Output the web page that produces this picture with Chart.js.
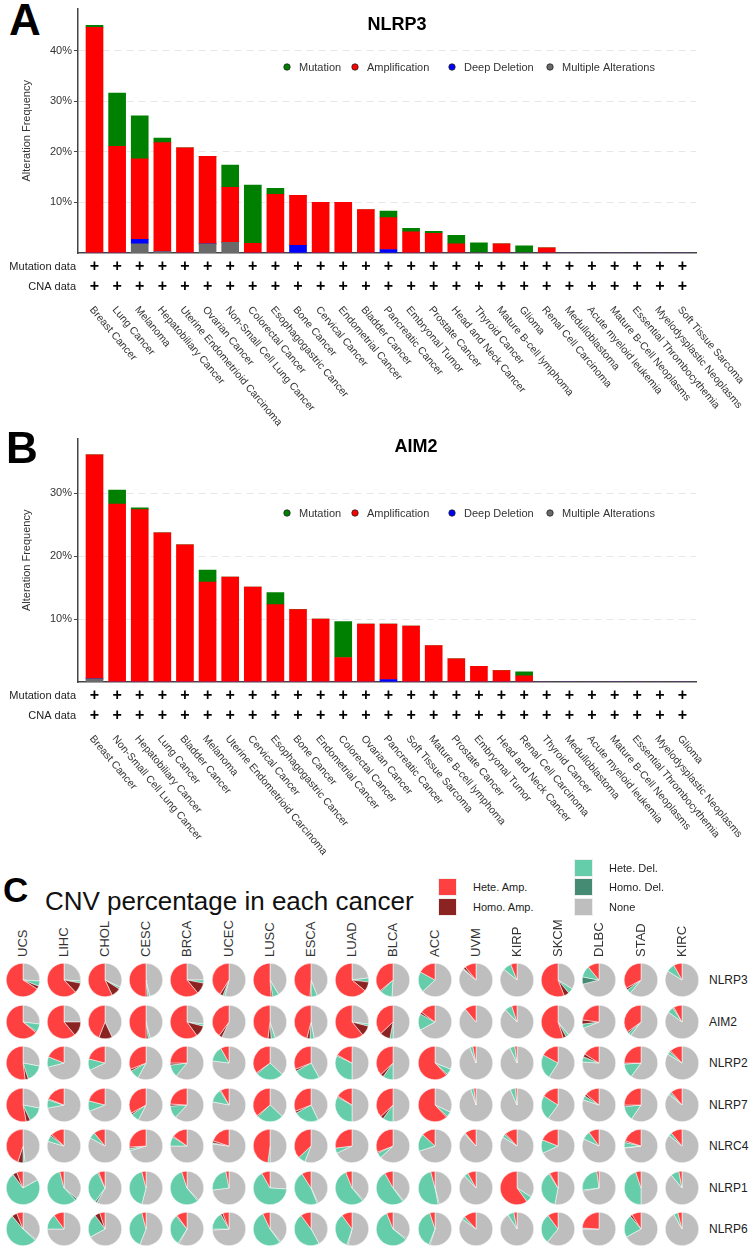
<!DOCTYPE html>
<html>
<head>
<meta charset="utf-8">
<script src="https://cdn.jsdelivr.net/npm/chart.js@4.4.1/dist/chart.umd.min.js"></script>
<style>
  body { margin: 0; background: #fff; }
  #page { position: relative; width: 749px; height: 1247px; overflow: hidden; font-family: "Liberation Sans", Arial, sans-serif; color: #222; }
  canvas { position: absolute; }
  .letter { position: absolute; font-weight: bold; color: #000; white-space: nowrap; }
  .key { position: absolute; width: 17px; height: 16px; box-shadow: 0 0 0 1px #eeeeee; }
  .keytext { position: absolute; font-size: 11px; line-height: 16px; white-space: nowrap; color: #222; }
  .col { position: absolute; width: 16px; height: 44px; line-height: 16px; font-size: 13px; font-family: "Liberation Sans Narrow", "Liberation Sans", Arial, sans-serif; writing-mode: vertical-rl; transform: rotate(180deg); white-space: nowrap; color: #333; }
  .row { position: absolute; font-size: 12px; line-height: 16px; white-space: nowrap; color: #222; }
</style>
</head>
<body>
<div id="page">
  <div class="letter" style="left:9px; top:-2px; font-size:44px; line-height:44px;">A</div>
  <canvas id="chartA" width="749" height="430" style="left:0; top:0;"></canvas>
  <div class="letter" style="left:6px; top:426px; font-size:44px; line-height:44px;">B</div>
  <canvas id="chartB" width="749" height="430" style="left:0; top:430px;"></canvas>
  <div class="letter" style="left:3px; top:872px; font-size:35px; line-height:35px;">C</div>
  <div class="letter" style="left:45px; top:888px; font-size:26px; line-height:26px; font-weight:normal; color:#111;">CNV percentage in each cancer</div>
</div>
<script>
const nlrp3Cancers = ["Breast Cancer", "Lung Cancer", "Melanoma", "Hepatobiliary Cancer", "Uterine Endometrioid Carcinoma", "Ovarian Cancer", "Non-Small Cell Lung Cancer", "Colorectal Cancer", "Esophagogastric Cancer", "Bone Cancer", "Cervical Cancer", "Endometrial Cancer", "Bladder Cancer", "Pancreatic Cancer", "Embryonal Tumor", "Prostate Cancer", "Head and Neck Cancer", "Thyroid Cancer", "Mature B-cell lymphoma", "Glioma", "Renal Cell Carcinoma", "Medulloblastoma", "Acute myeloid leukemia", "Mature B-Cell Neoplasms", "Essential Thrombocythemia", "Myelodysplastic Neoplasms", "Soft Tissue Sarcoma"];
const nlrp3Mutation = [0.4, 10.5, 8.5, 0.9, 0, 0, 4.4, 11.5, 1.2, 0, 0, 0, 0, 1.3, 0.7, 0.4, 1.7, 2.0, 0, 1.4, 0, 0, 0, 0, 0, 0, 0];
const nlrp3Amplification = [44.6, 21.1, 15.9, 21.5, 20.8, 17.3, 10.9, 1.9, 11.6, 9.9, 10.0, 10.0, 8.6, 6.3, 4.2, 3.9, 1.8, 0, 1.8, 0, 1.0, 0, 0, 0, 0, 0, 0];
const nlrp3DeepDeletion = [0, 0, 0.9, 0, 0, 0, 0, 0, 0, 1.5, 0, 0, 0, 0.7, 0, 0, 0, 0, 0, 0, 0, 0, 0, 0, 0, 0, 0];
const nlrp3Multiple = [0, 0, 1.8, 0.3, 0, 1.8, 2.1, 0, 0, 0, 0, 0, 0, 0, 0, 0, 0, 0, 0, 0, 0, 0, 0, 0, 0, 0, 0];

const aim2Cancers = ["Breast Cancer", "Non-Small Cell Lung Cancer", "Hepatobiliary Cancer", "Lung Cancer", "Bladder Cancer", "Melanoma", "Uterine Endometrioid Carcinoma", "Cervical Cancer", "Esophagogastric Cancer", "Bone Cancer", "Endometrial Cancer", "Colorectal Cancer", "Ovarian Cancer", "Pancreatic Cancer", "Soft Tissue Sarcoma", "Mature B-cell lymphoma", "Prostate Cancer", "Embryonal Tumor", "Head and Neck Cancer", "Renal Cell Carcinoma", "Thyroid Cancer", "Medulloblastoma", "Acute myeloid leukemia", "Mature B-Cell Neoplasms", "Essential Thrombocythemia", "Myelodysplastic Neoplasms", "Glioma"];
const aim2Mutation = [0, 2.2, 0.3, 0, 0, 1.9, 0, 0, 1.9, 0, 0, 5.7, 0, 0, 0, 0, 0, 0, 0, 0.6, 0, 0, 0, 0, 0, 0, 0];
const aim2Amplification = [35.6, 28.3, 27.4, 23.7, 21.8, 15.9, 16.7, 15.1, 12.3, 11.5, 10.0, 3.9, 9.2, 8.8, 8.9, 5.8, 3.7, 2.5, 1.8, 1.0, 0, 0, 0, 0, 0, 0, 0];
const aim2DeepDeletion = [0, 0, 0, 0, 0, 0, 0, 0, 0, 0, 0, 0, 0, 0.4, 0, 0, 0, 0, 0, 0, 0, 0, 0, 0, 0, 0, 0];
const aim2Multiple = [0.5, 0, 0, 0, 0, 0, 0, 0, 0, 0, 0, 0, 0, 0, 0, 0, 0, 0, 0, 0, 0, 0, 0, 0, 0, 0, 0];

const yTicks = [10, 20, 30, 40];

// CNV pies, each value: [Hete. Amp., Homo. Amp., Hete. Del., Homo. Del., None] in %
const cnvCancers = ["UCS", "LIHC", "CHOL", "CESC", "BRCA", "UCEC", "LUSC", "ESCA", "LUAD", "BLCA", "ACC", "UVM", "KIRP", "SKCM", "DLBC", "STAD", "KIRC"];
const cnvGenes = ["NLRP3", "AIM2", "NLRP2", "NLRP7", "NLRC4", "NLRP1", "NLRP6"];
const cnvNLRP3 = [[66, 3, 5, 0, 26], [62, 10, 2, 0, 26], [57, 9, 2, 0, 32], [50, 1.5, 2, 0, 46.5], [61, 11, 3, 0, 25], [41, 3, 2, 0, 54], [51, 1.5, 6, 0, 41.5], [49, 1, 6, 0, 44], [64, 9, 4, 0, 23], [36, 1, 12, 0, 51], [17, 0, 20, 0, 63], [11, 2, 1, 0, 86], [6, 0, 8, 0, 86], [56, 5, 5, 0, 34], [11, 0, 11, 7, 71], [33, 2, 4, 0, 61], [8, 0, 8, 0, 84]];
const cnvAIM2 = [[64, 1, 8, 0, 27], [61, 14, 0, 0, 25], [44, 13, 0, 0, 43], [50, 2, 2, 0, 46], [60, 11, 2, 0, 27], [40, 3, 0, 0, 57], [48, 3, 4, 0, 45], [46, 3, 4, 0, 47], [61, 10, 2, 0, 27], [37, 10, 3, 0, 50], [15, 2, 16, 0, 67], [11, 0, 0, 0, 89], [5, 0, 7, 0, 88], [55, 3, 3, 0, 39], [23, 4, 4, 0, 69], [35, 1.5, 3, 0, 60.5], [8, 1, 6, 0, 85]];
const cnvNLRP2 = [[52, 3, 17, 0, 28], [19, 0, 10, 0, 71], [21, 0, 11, 0, 68], [31, 2, 9, 0, 58], [25, 2, 12, 0, 61], [8, 0, 15, 0, 77], [35, 1, 27, 0, 37], [31, 2, 25, 0, 42], [17, 1, 32, 0, 50], [37, 3, 10, 0, 50], [62, 1, 6, 0, 31], [3, 0, 3, 0, 94], [2, 0, 5, 0, 93], [17, 0, 24, 0, 59], [16, 3, 5, 0, 76], [25, 1, 14, 0, 60], [12, 1, 3, 0, 84]];
const cnvNLRP7 = [[53, 4, 15, 0, 28], [19, 1, 8, 0, 72], [21, 0, 10, 0, 69], [33, 1.5, 8, 0, 57.5], [24, 2, 12, 0, 62], [8, 1, 13, 0, 78], [36, 1, 26, 0, 37], [31, 2, 24, 0, 43], [16, 1, 33, 0, 50], [37, 3, 10, 0, 50], [62, 1, 5, 0, 32], [2, 0, 3, 0, 95], [1.5, 0, 5, 0, 93.5], [16, 0, 24, 0, 60], [14, 2, 4, 0, 80], [25, 1.5, 14, 0, 59.5], [11, 1, 2, 0, 86]];
const cnvNLRC4 = [[45, 5, 2, 0, 48], [13, 1.5, 6, 0, 79.5], [11, 0, 6, 0, 83], [26, 1.5, 2, 0, 70.5], [15, 1, 9, 0, 75], [20, 2, 1, 0, 77], [48, 0, 2, 0, 50], [37, 0, 7, 0, 56], [27, 0, 5, 0, 68], [31, 1, 5, 0, 63], [13, 0, 17, 0, 70], [11, 0, 1, 0, 88], [12, 1, 3, 0, 84], [19, 0, 13, 0, 68], [10, 0, 8, 0, 82], [20, 1.5, 5, 0.5, 73], [11, 0, 3, 0, 86]];
const cnvNLRP1 = [[6, 4, 73, 0, 17], [4, 0, 58, 2, 36], [6, 1, 33, 2, 58], [4, 0, 42, 0, 54], [5, 0, 56, 1, 38], [3, 0, 24, 0, 73], [8, 0, 66, 0, 26], [9, 0, 47, 1, 43], [6, 0, 55, 1, 38], [8, 0, 52, 1, 39], [4, 0, 49, 1, 46], [8, 0, 4, 0, 88], [60, 0, 6, 0, 34], [8, 1, 38, 0, 53], [2, 0, 25, 1, 72], [5, 0, 45, 0, 50], [3, 0, 8, 0, 89]];
const cnvNLRP6 = [[6, 5, 52, 1, 36], [10, 0, 15, 0, 75], [5, 5, 23, 0, 67], [4, 0, 40, 0, 56], [10, 1, 30, 1, 58], [6, 2, 17, 1, 74], [7, 0, 53, 1, 39], [10, 0, 48, 0, 42], [10, 0, 35, 1, 54], [6, 0, 58, 1, 35], [5, 0, 39, 1, 55], [12, 0, 3, 0, 85], [3, 0, 6, 0, 91], [10, 0, 29, 0, 61], [24, 0, 1, 0, 75], [9, 2, 22, 0, 67], [4, 0, 4, 0, 92]];
const cnvRows = [cnvNLRP3, cnvAIM2, cnvNLRP2, cnvNLRP7, cnvNLRC4, cnvNLRP1, cnvNLRP6];
const cnvNames = ["Hete. Amp.", "Homo. Amp.", "Hete. Del.", "Homo. Del.", "None"];
const cnvColors = ["#ff4040", "#8b2323", "#66cdaa", "#458b74", "#bebebe"];

const FONT = '"Liberation Sans", Arial, sans-serif';
const page = document.getElementById("page");

const alterations = [
  { label: "Mutation", color: "#008000" },
  { label: "Amplification", color: "#ff0000" },
  { label: "Deep Deletion", color: "#0000ff" },
  { label: "Multiple Alterations", color: "#6a6a6a" },
];
const legendX = [287, 355, 452, 550];

const panelDecor = {
  id: "panelDecor",
  afterDraw(chart, args, o) {
    const { ctx, chartArea } = chart;
    const xs = chart.scales.x;
    ctx.save();

    ctx.fillStyle = "#000";
    ctx.font = `bold 18px ${FONT}`;
    ctx.textAlign = "center";
    ctx.textBaseline = "middle";
    ctx.fillText(o.title, o.titleX, o.titleY);

    ctx.font = `11px ${FONT}`;
    ctx.textAlign = "left";
    alterations.forEach((item, k) => {
      ctx.beginPath();
      ctx.arc(legendX[k], o.legendY, 3.2, 0, Math.PI * 2);
      ctx.fillStyle = item.color;
      ctx.fill();
      ctx.lineWidth = 0.8;
      ctx.strokeStyle = "#222";
      ctx.stroke();
      ctx.fillStyle = "#333";
      ctx.fillText(item.label, legendX[k] + 12, o.legendY + 0.5);
    });

    ctx.save();
    ctx.translate(27, (chartArea.top + chartArea.bottom) / 2);
    ctx.rotate(-Math.PI / 2);
    ctx.textAlign = "center";
    ctx.fillText("Alteration Frequency", 0, 0);
    ctx.restore();

    const y1 = chartArea.bottom + 14;
    const y2 = chartArea.bottom + 34;
    ctx.fillStyle = "#222";
    ctx.textAlign = "right";
    ctx.fillText("Mutation data", 76, y1);
    ctx.fillText("CNA data", 76, y2);

    ctx.font = `bold 16px ${FONT}`;
    ctx.textAlign = "center";
    ctx.fillStyle = "#000";
    o.labels.forEach((lab, i) => {
      const px = xs.getPixelForValue(i);
      ctx.fillText("+", px, y1);
      ctx.fillText("+", px, y2);
    });

    ctx.font = `10.5px ${FONT}`;
    ctx.textAlign = "left";
    ctx.fillStyle = "#333";
    o.labels.forEach((lab, i) => {
      const px = xs.getPixelForValue(i);
      ctx.save();
      ctx.translate(px - 3, chartArea.bottom + 55);
      ctx.rotate((50 * Math.PI) / 180);
      ctx.fillText(lab, 0, 0);
      ctx.restore();
    });
    ctx.restore();
  },
};

const toPoints = (arr) => arr.map((v, i) => ({ x: i, y: v }));

const renderBars = (id, cancers, mutation, amp, deep, multiple, yMax, padTop, padBottom, decor) => {
  const datasets = [
    { label: "Multiple Alterations", data: toPoints(multiple), backgroundColor: "#6a6a6a" },
    { label: "Deep Deletion", data: toPoints(deep), backgroundColor: "#0000ff" },
    { label: "Amplification", data: toPoints(amp), backgroundColor: "#ff0000" },
    { label: "Mutation", data: toPoints(mutation), backgroundColor: "#008000" },
  ];
  datasets.forEach((d) => { d.barThickness = 17; d.borderWidth = 0; });

  return new Chart(document.getElementById(id), {
    type: "bar",
    data: { datasets },
    plugins: [panelDecor],
    options: {
      responsive: false,
      animation: false,
      events: [],
      layout: { padding: { top: padTop, bottom: padBottom, left: 0, right: 53 } },
      plugins: {
        legend: { display: false },
        tooltip: { enabled: false },
        panelDecor: { ...decor, labels: cancers },
      },
      scales: {
        x: {
          type: "linear",
          offset: false,
          min: -0.73,
          max: 26.6,
          stacked: true,
          grid: { display: false },
          ticks: { display: false },
          border: { color: "#444", width: 1.5 },
          afterFit: (s) => { s.height = 0; },
        },
        y: {
          stacked: true,
          min: 0,
          max: yMax,
          afterBuildTicks: (s) => { s.ticks = yTicks.filter((t) => t < yMax).map((t) => ({ value: t })); },
          afterFit: (s) => { s.width = 78; },
          ticks: { callback: (v) => v + "%", color: "#333", font: { family: FONT, size: 11 }, padding: 2 },
          grid: { color: "#e4e8eb", tickLength: 4, tickColor: "#444" },
          border: { color: "#444", width: 1.5, dash: [7, 5] },
        },
      },
    },
  });
};

renderBars("chartA", nlrp3Cancers, nlrp3Mutation, nlrp3Amplification, nlrp3DeepDeletion, nlrp3Multiple, 48.3, 8, 177,
  { title: "NLRP3", titleX: 397, titleY: 25, legendY: 67 });
renderBars("chartB", aim2Cancers, aim2Mutation, aim2Amplification, aim2DeepDeletion, aim2Multiple, 38.7, 7, 178,
  { title: "AIM2", titleX: 416, titleY: 17, legendY: 83 });

// panel C legend
const keyPos = [[439, 879], [439, 899], [575, 860], [575, 879], [575, 899]];
cnvNames.forEach((name, k) => {
  const sq = document.createElement("div");
  sq.className = "key";
  sq.style.left = keyPos[k][0] + "px";
  sq.style.top = keyPos[k][1] + "px";
  sq.style.background = cnvColors[k];
  page.appendChild(sq);
  const tx = document.createElement("div");
  tx.className = "keytext";
  tx.style.left = keyPos[k][0] + 34 + "px";
  tx.style.top = keyPos[k][1] + "px";
  tx.textContent = name;
  page.appendChild(tx);
});

const pieX0 = 22.5;
const pieDX = 41.2;
const pieY0 = 980;
const pieDY = 41.5;

cnvCancers.forEach((name, c) => {
  const lab = document.createElement("div");
  lab.className = "col";
  lab.style.left = pieX0 + c * pieDX - 8 + "px";
  lab.style.top = 957 - 44 + "px";
  lab.textContent = name;
  page.appendChild(lab);
});

cnvGenes.forEach((gene, r) => {
  const lab = document.createElement("div");
  lab.className = "row";
  lab.style.left = "709px";
  lab.style.top = pieY0 + r * pieDY - 8 + "px";
  lab.textContent = gene;
  page.appendChild(lab);
});

// pies drawn clockwise from 12 o'clock: None, Homo. Del., Hete. Del., Homo. Amp., Hete. Amp.
cnvRows.forEach((row, r) => {
  row.forEach((vals, c) => {
    const cv = document.createElement("canvas");
    cv.width = 34;
    cv.height = 34;
    cv.style.left = pieX0 + c * pieDX - 17 + "px";
    cv.style.top = pieY0 + r * pieDY - 17 + "px";
    page.appendChild(cv);
    new Chart(cv, {
      type: "pie",
      data: {
        labels: cnvNames.slice().reverse(),
        datasets: [{
          data: vals.slice().reverse(),
          backgroundColor: cnvColors.slice().reverse(),
          borderColor: "#fff",
          borderWidth: 0.5,
          hoverOffset: 0,
        }],
      },
      options: {
        responsive: false,
        animation: false,
        events: [],
        plugins: { legend: { display: false }, tooltip: { enabled: false } },
      },
    });
  });
});
</script>
</body>
</html>
